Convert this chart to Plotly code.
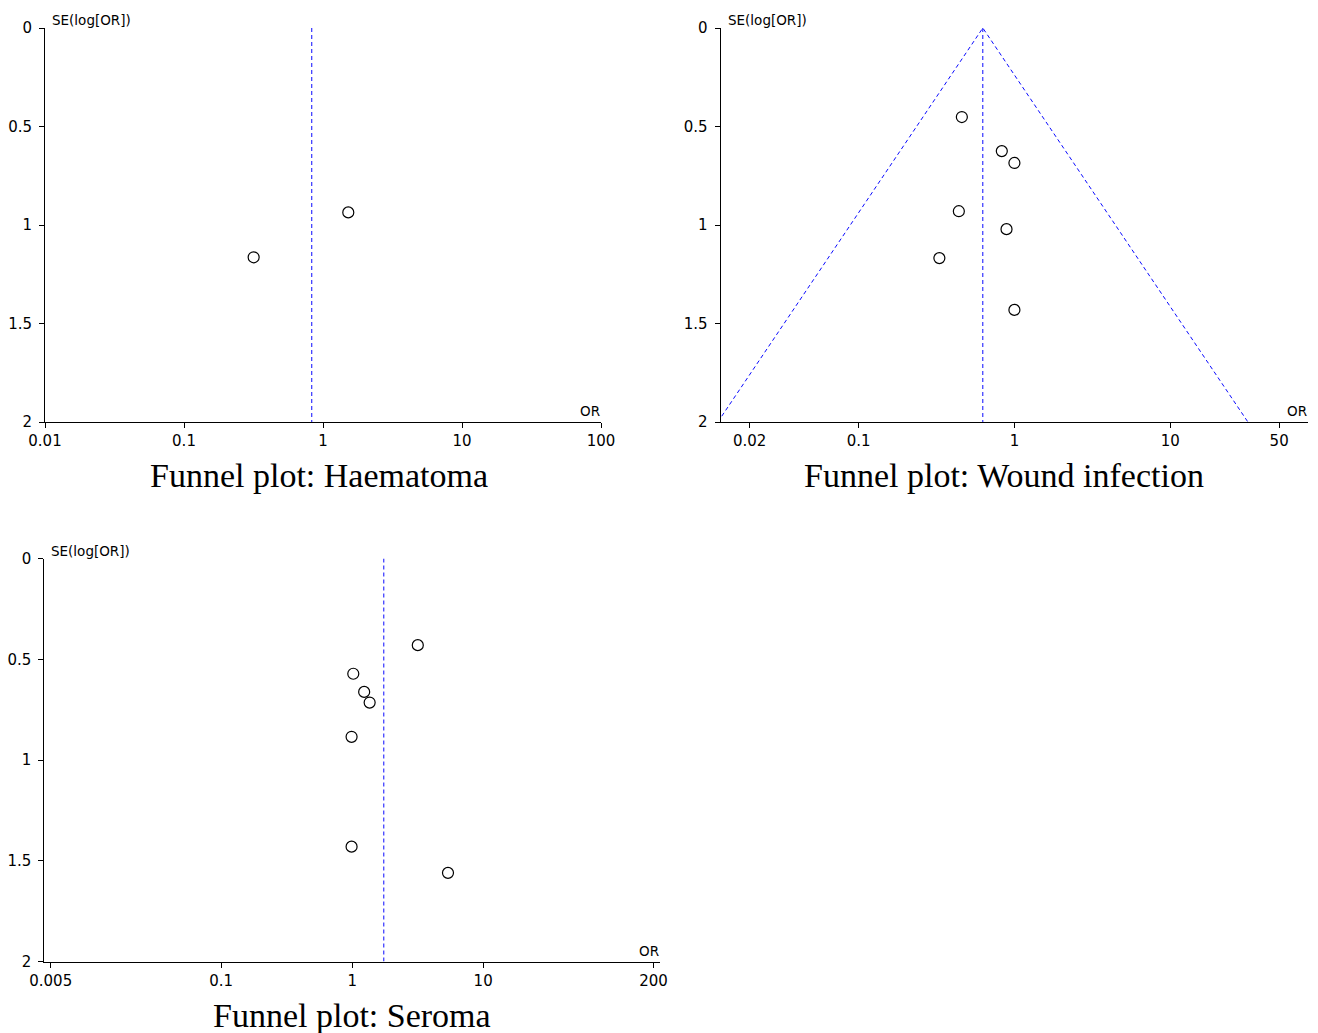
import math
import plotly.graph_objects as go

# ---------------- data ----------------
haem_or = [0.317, 1.52]
haem_se = [1.164, 0.936]
haem_pooled = 0.83

wound_or = [0.46, 0.83, 1.0, 0.44, 0.89, 0.33, 1.0]
wound_se = [0.452, 0.625, 0.685, 0.930, 1.021, 1.168, 1.431]
wound_pooled = 0.627
wound_funnel_or = [0.0125, 0.627, 31.5]
wound_funnel_se = [2, 0, 2]

seroma_or = [3.17, 1.02, 1.235, 1.36, 0.99, 0.99, 5.39]
seroma_se = [0.43, 0.572, 0.662, 0.715, 0.885, 1.43, 1.56]
seroma_pooled = 1.744

se_ticks = [0, 0.5, 1, 1.5, 2]
se_ticktext = ["0", "0.5", "1", "1.5", "2"]
haem_xticks = [0.01, 0.1, 1, 10, 100]
haem_xticktext = ["0.01", "0.1", "1", "10", "100"]
wound_xticks = [0.02, 0.1, 1, 10, 50]
wound_xticktext = ["0.02", "0.1", "1", "10", "50"]
seroma_xticks = [0.005, 0.1, 1, 10, 200]
seroma_xticktext = ["0.005", "0.1", "1", "10", "200"]

titles = ["Funnel plot: Haematoma", "Funnel plot: Wound infection", "Funnel plot: Seroma"]

# ---------------- layout geometry ----------------
W, H = 1318, 1033
def px_x(a, b):
    return [a / W, b / W]
def px_y(top, bottom):
    return [1 - bottom / H, 1 - top / H]

BLUE = "#0a0aff"
TICKFONT = dict(family="DejaVu Sans", size=15, color="black")

fig = go.Figure()

def add_panel(i, ors, ses, pooled, funnel=None):
    xa = "x" if i == 1 else f"x{i}"
    ya = "y" if i == 1 else f"y{i}"
    if funnel is not None:
        fig.add_trace(go.Scatter(x=funnel[0], y=funnel[1], mode="lines",
                                 line=dict(color=BLUE, width=1, dash="4px,3px"),
                                 xaxis=xa, yaxis=ya, showlegend=False, hoverinfo="skip"))
    fig.add_trace(go.Scatter(x=[pooled, pooled], y=[0, 2], mode="lines",
                             line=dict(color=BLUE, width=1, dash="4px,3px"),
                             xaxis=xa, yaxis=ya, showlegend=False, hoverinfo="skip"))
    fig.add_trace(go.Scatter(x=ors, y=ses, mode="markers",
                             marker=dict(symbol="circle-open", size=11, color="black",
                                         line=dict(width=1.2, color="black")),
                             xaxis=xa, yaxis=ya, showlegend=False, cliponaxis=False))

add_panel(1, haem_or, haem_se, haem_pooled)
add_panel(2, wound_or, wound_se, wound_pooled, (wound_funnel_or, wound_funnel_se))
add_panel(3, seroma_or, seroma_se, seroma_pooled)

common_x = dict(type="log", showline=True, linecolor="black", linewidth=1,
                ticks="outside", ticklen=5, tickcolor="black", tickwidth=1,
                showgrid=False, zeroline=False, tickfont=TICKFONT, fixedrange=True,
                automargin=False)
common_y = dict(showline=True, linecolor="black", linewidth=1,
                ticks="outside", ticklen=5, tickcolor="black", tickwidth=1,
                showgrid=False, zeroline=False, tickfont=TICKFONT,
                range=[2, 0], tickmode="array", tickvals=se_ticks, ticktext=se_ticktext,
                fixedrange=True, ticklabelstandoff=4, automargin=False)

fig.update_layout(
    template="none",
    width=W, height=H,
    margin=dict(l=0, r=0, t=0, b=0, autoexpand=False),
    paper_bgcolor="white", plot_bgcolor="white",
    xaxis=dict(common_x, domain=px_x(45, 601), anchor="y",
               range=[math.log10(0.01), math.log10(100)],
               tickvals=haem_xticks, ticktext=haem_xticktext),
    yaxis=dict(common_y, domain=px_y(28, 422), anchor="x"),
    xaxis2=dict(common_x, domain=px_x(720.5, 1308), anchor="y2",
                range=[-1.886, 1.884],
                tickvals=wound_xticks, ticktext=wound_xticktext),
    yaxis2=dict(common_y, domain=px_y(28, 422), anchor="x2"),
    xaxis3=dict(common_x, domain=px_x(44.3, 660), anchor="y3",
                range=[-2.35, 2.35],
                tickvals=seroma_xticks, ticktext=seroma_xticktext),
    yaxis3=dict(common_y, domain=px_y(558.5, 961.5), anchor="x3"),
)

annots = []
for i in (1, 2, 3):
    sfx = "" if i == 1 else str(i)
    annots.append(dict(text="SE(log[OR])", xref=f"x{sfx} domain", yref=f"y{sfx} domain",
                       x=0, y=1, xanchor="left", yanchor="bottom", xshift=5, yshift=-2,
                       showarrow=False, font=dict(family="DejaVu Sans", size=13.5, color="black")))
    annots.append(dict(text="OR", xref=f"x{sfx} domain", yref=f"y{sfx} domain",
                       x=1, y=0, xanchor="right", yanchor="bottom", xshift=1, yshift=1,
                       showarrow=False, font=dict(family="DejaVu Sans", size=13.5, color="black")))

title_pos = [(319, 476), (1004, 476), (351.5, 1015)]
for t, (cx, cy) in zip(titles, title_pos):
    annots.append(dict(text=t, xref="paper", yref="paper", x=cx / W, y=1 - cy / H,
                       xanchor="center", yanchor="middle", showarrow=False,
                       font=dict(family="Liberation Serif", size=34, color="black")))
fig.update_layout(annotations=annots)

fig.write_html("out.html", config={"displayModeBar": False},
               post_script="document.body.style.margin='0';document.body.style.overflow='hidden';")
